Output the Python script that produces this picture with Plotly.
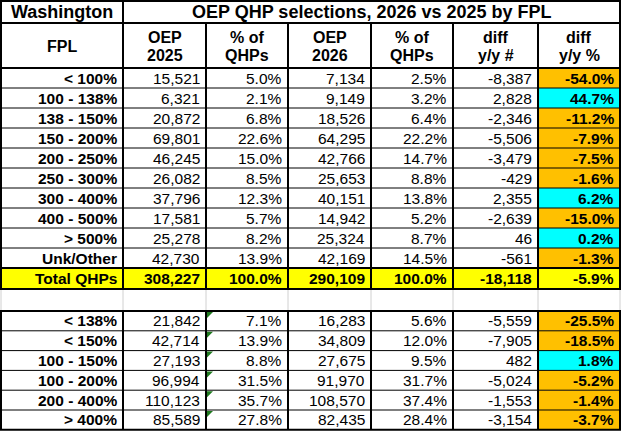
import plotly.graph_objects as go

# ---- data ----
state = "Washington"
title = "OEP QHP selections, 2026 vs 2025 by FPL"
headers = [["FPL"], ["OEP", "2025"], ["% of", "QHPs"], ["OEP", "2026"],
           ["% of", "QHPs"], ["diff", "y/y #"], ["diff", "y/y %"]]

fpl = ["< 100%", "100 - 138%", "138 - 150%", "150 - 200%", "200 - 250%",
       "250 - 300%", "300 - 400%", "400 - 500%", "> 500%", "Unk/Other"]
oep_2025 = [15521, 6321, 20872, 69801, 46245, 26082, 37796, 17581, 25278, 42730]
pct_2025 = [5.0, 2.1, 6.8, 22.6, 15.0, 8.5, 12.3, 5.7, 8.2, 13.9]
oep_2026 = [7134, 9149, 18526, 64295, 42766, 25653, 40151, 14942, 25324, 42169]
pct_2026 = [2.5, 3.2, 6.4, 22.2, 14.7, 8.8, 13.8, 5.2, 8.7, 14.5]
diff_num = [-8387, 2828, -2346, -5506, -3479, -429, 2355, -2639, 46, -561]
diff_pct = [-54.0, 44.7, -11.2, -7.9, -7.5, -1.6, 6.2, -15.0, 0.2, -1.3]

total_label = "Total QHPs"
total_vals = [308227, 100.0, 290109, 100.0, -18118, -5.9]

fpl_grp = ["< 138%", "< 150%", "100 - 150%", "100 - 200%", "200 - 400%", "> 400%"]
grp_2025 = [21842, 42714, 27193, 96994, 110123, 85589]
grp_pct_2025 = [7.1, 13.9, 8.8, 31.5, 35.7, 27.8]
grp_2026 = [16283, 34809, 27675, 91970, 108570, 82435]
grp_pct_2026 = [5.6, 12.0, 9.5, 31.7, 37.4, 28.4]
grp_diff = [-5559, -7905, 482, -5024, -1553, -3154]
grp_diff_pct = [-25.5, -18.5, 1.8, -5.2, -1.4, -3.7]

# ---- layout geometry (pixel units on the axes) ----
col_edges = [1, 123, 206, 288, 371, 453, 538, 620]
title_top, title_bot = 1, 23
head_bot = 68
row_h = 20
top_rows_start = head_bot
total_top = top_rows_start + row_h * len(fpl)
total_bot = total_top + 21
grp_start = 311
grp_h = 19.8

ORANGE = "#FFC000"
CYAN = "#00FFFF"
YELLOW = "#FFFF00"
FONT = "Liberation Sans, Arial, sans-serif"
DATA_SIZE = 15.5

fig = go.Figure()
fig.add_trace(go.Scatter(x=[0, 622], y=[0, 432], mode="markers",
                         marker=dict(opacity=0), hoverinfo="skip", showlegend=False))


def fill(x0, x1, y0, y1, color):
    fig.add_shape(type="rect", x0=x0, x1=x1, y0=y0, y1=y1,
                  fillcolor=color, line=dict(width=0), layer="below")


def hline(y, x0, x1, w=1, color="black"):
    fig.add_shape(type="line", x0=x0, x1=x1, y0=y, y1=y, line=dict(color=color, width=w))


def vline(x, y0, y1, w=2, color="black"):
    fig.add_shape(type="line", x0=x, x1=x, y0=y0, y1=y1, line=dict(color=color, width=w))


def text(txt, col, y, bold=False, size=DATA_SIZE, align="right"):
    if align == "right":
        x, anchor = col_edges[col + 1] - 4, "right"
    else:
        x, anchor = (col_edges[col] + col_edges[col + 1]) / 2, "center"
    fig.add_annotation(x=x, y=y, text=f"<b>{txt}</b>" if bold else txt,
                       xanchor=anchor, yanchor="middle", showarrow=False,
                       font=dict(family=FONT, size=size, color="black"))


def fmt_n(v):
    return f"{v:,}"


def fmt_p(v):
    return f"{v:.1f}%"


def data_row(y0, h, label, vals, bold_all=False, bg=None):
    yc = y0 + h / 2
    if bg:
        fill(col_edges[0], col_edges[-1], y0, y0 + h, bg)
    else:
        pct = vals[-1]
        fill(col_edges[6], col_edges[7], y0, y0 + h, ORANGE if pct < 0 else CYAN)
    text(label, 0, yc, bold=True)
    cells = [fmt_n(vals[0]), fmt_p(vals[1]), fmt_n(vals[2]), fmt_p(vals[3]),
             fmt_n(vals[4]), fmt_p(vals[5])]
    for i, c in enumerate(cells):
        text(c, i + 1, yc, bold=bold_all or i == 5)


# ---- title + header ----
text(state, 0, 12, bold=True, size=18, align="center")
fig.add_annotation(x=(col_edges[1] + col_edges[-1]) / 2, y=12, text=f"<b>{title}</b>",
                   xanchor="center", yanchor="middle", showarrow=False,
                   font=dict(family=FONT, size=18, color="black"))
for i, h in enumerate(headers):
    if len(h) == 1:
        text(h[0], i, 46, bold=True, size=16, align="center")
    else:
        text(h[0], i, 37, bold=True, size=16, align="center")
        text(h[1], i, 55, bold=True, size=16, align="center")

# ---- top section ----
for r in range(len(fpl)):
    data_row(top_rows_start + r * row_h, row_h, fpl[r],
             [oep_2025[r], pct_2025[r], oep_2026[r], pct_2026[r], diff_num[r], diff_pct[r]])
data_row(total_top, total_bot - total_top, total_label, total_vals, bold_all=True, bg=YELLOW)

# ---- grouped section ----
for r in range(len(fpl_grp)):
    data_row(grp_start + r * grp_h, grp_h, fpl_grp[r],
             [grp_2025[r], grp_pct_2025[r], grp_2026[r], grp_pct_2026[r],
              grp_diff[r], grp_diff_pct[r]])
    yt = grp_start + r * grp_h + 1
    x0 = col_edges[2] + 1
    fig.add_shape(type="path", path=f"M {x0},{yt} L {x0 + 6},{yt} L {x0},{yt + 6} Z",
                  fillcolor="#1F7A1F", line=dict(width=0))
grp_bot = grp_start + grp_h * len(fpl_grp)

# ---- grid lines ----
# blank spacer row: light grey gridlines
for x in col_edges:
    vline(x, total_bot, grp_start, w=1, color="#D0D0D0")

# thin row separators
for r in range(1, len(fpl)):
    hline(top_rows_start + r * row_h, col_edges[0], col_edges[-1], w=1)
for r in range(1, len(fpl_grp)):
    hline(grp_start + r * grp_h, col_edges[0], col_edges[-1], w=1)

# thick borders
for y in [title_top, title_bot, head_bot, total_top, total_bot, grp_start, grp_bot]:
    hline(y, col_edges[0] - 1, col_edges[-1] + 1, w=2)
for x in [col_edges[0], col_edges[1], col_edges[-1]]:
    vline(x, title_top, title_bot)
for x in col_edges:
    vline(x, title_bot, total_bot)
    vline(x, grp_start, grp_bot)

fig.update_layout(
    width=622, height=432,
    margin=dict(l=0, r=0, t=0, b=0),
    paper_bgcolor="white", plot_bgcolor="white",
    xaxis=dict(range=[0, 622], visible=False, fixedrange=True),
    yaxis=dict(range=[432, 0], visible=False, fixedrange=True),
    showlegend=False,
)

# drop the page's default body margin so the table sits at the top-left corner
fig.write_html("out.html", config={"displayModeBar": False},
               post_script="document.body.style.margin='0';")
